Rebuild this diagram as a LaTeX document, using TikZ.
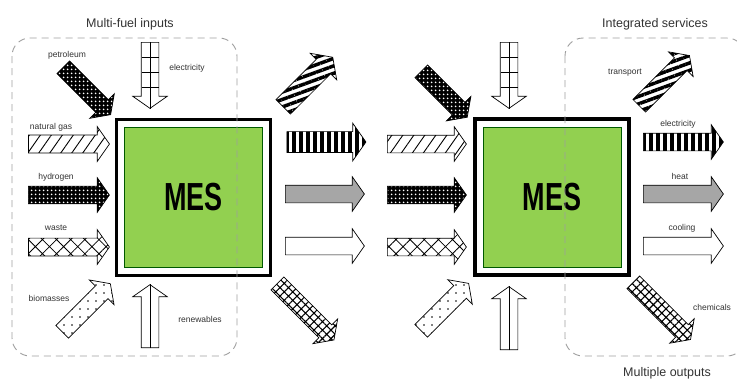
\documentclass[tikz,border=0pt]{standalone}
\usepackage{fontspec}
\setmainfont{Liberation Sans}
\usepackage{tikz}
\usetikzlibrary{positioning, calc, shapes.arrows, patterns.meta}

\begin{document}
\begin{tikzpicture}[
    x=1pt, y=-1pt,
    fatarr/.style={single arrow, draw=black, line width=0.7pt, inner xsep=0pt, inner ysep=8.5pt, single arrow head extend=8.5pt, single arrow tip angle=110, anchor=tail},
    gasarr/.style={fatarr, pattern={Lines[angle=55, distance=9pt, line width=0.9pt]}},
    dotarr/.style={fatarr, preaction={fill=black}, pattern={Dots[distance=4pt, radius=1.15pt]}, pattern color=white},
    wastearr/.style={fatarr, pattern={Hatch[angle=45, distance=10pt, line width=0.8pt]}},
    bioarr/.style={fatarr, pattern={Dots[distance=8pt, radius=0.8pt]}},
    gridarr/.style={fatarr, fill=white},
    renewarr/.style={fatarr, fill=white},
    stripearr/.style={fatarr, pattern={Lines[angle=20, distance=7pt, line width=3.5pt]}},
    barsarr/.style={fatarr, pattern={Lines[angle=90, distance=7pt, line width=3.8pt]}},
    heatarr/.style={fatarr, fill=gray!70},
    coolarr/.style={fatarr, fill=white},
    chemarr/.style={fatarr, pattern={Hatch[angle=45, distance=6pt, line width=1.1pt]}},
    inline/.style={line width=0.7pt},
    mesout/.style={rectangle, draw=black, line width=3.5pt, minimum width=154pt, minimum height=156pt, inner sep=0pt},
    mesin/.style={rectangle, draw=green!35!black, fill={rgb,255:red,146;green,208;blue,80}, line width=0.6pt, minimum width=138pt, minimum height=140pt, font=\fontsize{27}{27}\selectfont\bfseries},
    region/.style={draw=gray!75, line width=0.9pt, dash pattern=on 7pt off 5pt, rounded corners=18pt},
    lbl/.style={font=\fontsize{8.5}{9}\selectfont, text=black!80},
    ttl/.style={font=\fontsize{12.5}{13}\selectfont, text=black!80},
]

\fill[white] (0,0) rectangle (737,381);
\useasboundingbox (0,0) rectangle (737,381);

% MES blocks
\node[mesout] (mesL) at (193.5,197.5) {};
\node[mesin] (coreL) at (mesL.center) {\scalebox{1}[1.45]{MES}};
\node[mesout] (mesR) at (552,197) {};
\node[mesin] (coreR) at (mesR.center) {\scalebox{1}[1.45]{MES}};

% Inputs - left
\node[dotarr, rotate=-45, minimum height=67pt] (petro) at (63,67) {};
\node[gridarr, rotate=270, minimum height=66pt] (elecin) at (150,42) {};
\node[gasarr, minimum height=81pt] (gas) at (28,144) {};
\node[dotarr, minimum height=81pt] (hydro) at (28,195) {};
\node[wastearr, minimum height=81pt] (waste) at (28,247) {};
\node[bioarr, rotate=45, minimum height=68pt] (bio) at (62,332) {};
\node[renewarr, rotate=90, minimum height=63pt] (renew) at (150,348) {};

% Outputs - left
\node[stripearr, rotate=45, minimum height=70pt] (transL) at (282,108) {};
\node[barsarr, minimum height=79pt] (elecL) at (285,142) {};
\node[heatarr, minimum height=79pt] (heatL) at (285,194) {};
\node[coolarr, minimum height=79pt] (coolL) at (285,246) {};
\node[chemarr, rotate=-45, minimum height=80pt] (chemL) at (277,283) {};

% Inputs - right
\node[dotarr, rotate=-45, minimum height=65pt] (petroR) at (421,71) {};
\node[gridarr, rotate=270, minimum height=66pt] (elecinR) at (509,42) {};
\node[gasarr, minimum height=79pt] (gasR) at (387,144) {};
\node[dotarr, minimum height=79pt] (hydroR) at (387,195) {};
\node[wastearr, minimum height=79pt] (wasteR) at (387,247) {};
\node[bioarr, rotate=45, minimum height=67pt] (bioR) at (421,331) {};
\node[renewarr, rotate=90, minimum height=63pt] (renewR) at (509,350) {};

% Outputs - right
\node[stripearr, rotate=45, minimum height=71pt] (trans) at (639,106) {};
\node[barsarr, minimum height=80pt] (elec) at (643,142) {};
\node[heatarr, minimum height=80pt] (heat) at (643,194) {};
\node[coolarr, minimum height=80pt] (cool) at (643,246) {};
\node[chemarr, rotate=-45, minimum height=81pt] (chem) at (633,282) {};

% Grid and centre lines in the vertical arrows
\foreach \a in {elecin, elecinR, renew, renewR}
  \draw[inline] (\a.tail) -- (\a.tip);
\foreach \a in {elecin, elecinR}
  \foreach \k in {15,30,45}
    \draw[inline] ($(\a.tail)+(-8.5,\k)$) -- ($(\a.tail)+(8.5,\k)$);

% Groups
\draw[region] (12,38) rectangle (237,356);
\draw[region] (565,38) rectangle (745,356);

% Titles
\node[ttl] (tin) at (130,24) {Multi-fuel inputs};
\node[ttl] (tserv) at (655,24) {Integrated services};
\node[ttl] (tout) at (667,373) {Multiple outputs};

% Labels
\node[lbl] (lpetro) at (67,55) {petroleum};
\node[lbl] (lelecin) at (187,68) {electricity};
\node[lbl] (lgas) at (51,127) {natural gas};
\node[lbl] (lhydro) at (56,177) {hydrogen};
\node[lbl] (lwaste) at (56,228) {waste};
\node[lbl] (lbio) at (49,298) {biomasses};
\node[lbl] (lrenew) at (200,319) {renewables};
\node[lbl] (ltrans) at (625,73) {transport};
\node[lbl] (lelec) at (678,124) {electricity};
\node[lbl] (lheat) at (680,176) {heat};
\node[lbl] (lcool) at (682,228) {cooling};
\node[lbl] (lchem) at (712,307) {chemicals};

\end{tikzpicture}
\end{document}
